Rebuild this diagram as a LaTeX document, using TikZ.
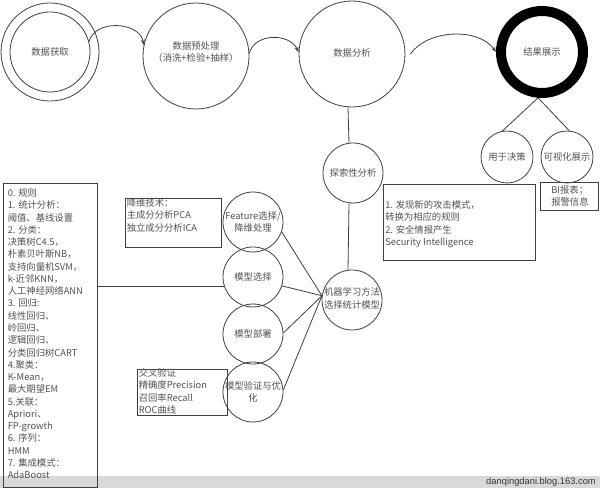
\documentclass[tikz,border=0pt]{standalone}
\usepackage{fontspec}
\setmainfont{Noto Sans CJK SC}
\newfontfamily\wmfont{Liberation Sans}
\usetikzlibrary{arrows.meta}
\begin{document}
\begin{tikzpicture}[x=0.75pt,y=-0.75pt,
  line/.style={draw=black!75, line width=0.6pt},
  circ/.style={circle, line, inner sep=0pt},
  txt/.style={font=\fontsize{7}{9.2}\selectfont, text=black!68, inner sep=0pt, align=center},
  boxtxt/.style={txt, align=left, anchor=north west},
  box/.style={rectangle, line, inner sep=0pt, anchor=north west},
  arr/.style={line, -{Stealth[length=4pt,width=3pt]}}]
\useasboundingbox (0,0) rectangle (600,488);
\fill[white] (0,0) rectangle (600,488);
% watermark band
\fill[gray!30] (0,476) rectangle (600,488);
\node[anchor=east, inner sep=0pt, font=\wmfont\fontsize{7}{8}\selectfont, text=black!80] (wm) at (596,482) {danqingdani.blog.163.com};

% top row
\node[circ, minimum size=73.5pt] (get) at (50,52) {};
\node[circ, minimum size=60pt] (geti) at (50,52) {};
\node[txt] (gett) at (50,52) {数据获取};
\node[circ, minimum size=79.5pt] (pre) at (196,56) {};
\node[txt] (pret) at (196,52) {数据预处理\\（消洗+检验+抽样）};
\node[circ, minimum size=79.5pt] (ana) at (352,54) {};
\node[txt] (anat) at (352,53) {数据分析};
\node[circle, draw=black, line width=7.5pt, minimum size=61.5pt, inner sep=0pt] (res) at (542,52) {};
\node[txt] (rest) at (542,52) {结果展示};

\draw[arr] (geti.15) to[out=75,in=100,looseness=1.1] (pre.168);
\draw[arr] (pre.3) to[out=75,in=115,looseness=1.1] (ana.178);
\draw[arr] ([xshift=3.75pt]ana.east) to[out=55,in=125,looseness=0.9] (res.180);

% result branch
\node[circ, minimum size=39pt] (jc) at (507,157) {};
\node[txt] (jct) at (507,157) {用于决策};
\node[circ, minimum size=39pt] (vs) at (567,157) {};
\node[txt] (vst) at (567,157) {可视化展示};
\draw[line] (res.265) -- (jc.100);
\draw[line] (res.265) -- (vs.85);
\node[box, line width=1pt, minimum width=43.5pt, minimum height=21pt] (bi) at (540,182) {};
\node[boxtxt] (bit) at (551,185.5) {BI报表；\\报警信息};

% analysis column
\node[circ, minimum size=45pt] (exp) at (353,173) {};
\node[txt] (expt) at (353,173) {探索性分析};
\node[circ, minimum size=45pt] (ml) at (352,300) {};
\node[txt] (mlt) at (352,298.5) {机器学习方法\\选择统计模型};
\draw[line] ([xshift=-3pt]ana.south) -- ([xshift=-3pt]exp.north);
\draw[line] ([xshift=-3pt]exp.south) -- ([xshift=-3pt]ml.north);
\node[box, minimum width=114pt, minimum height=57pt] (sec) at (383,184) {};
\node[boxtxt] (sect) at (385,200.5) {1. 发现新的攻击模式，\\转换为相应的规则\\2. 安全情报产生\\Security Intelligence};

% model column
\node[circ, minimum size=45pt] (feat) at (253,222) {};
\node[txt] (featt) at (253,222) {Feature选择/\\降维处理};
\node[circ, minimum size=45pt] (sel) at (253,277) {};
\node[txt] (selt) at (253,277) {模型选择};
\node[circ, minimum size=45pt] (dep) at (253,334) {};
\node[txt] (dept) at (253,334) {模型部署};
\node[circ, minimum size=45pt] (val) at (253,392) {};
\node[txt] (valt) at (253,392) {模型验证与优\\化};
\coordinate (J) at (ml.172);
\draw[line] (feat.-19) -- (J);
\draw[line] (sel.-17) -- (J);
\draw[line] (dep.2) -- (J);
\draw[line] (val.4) -- (J);

\node[box, minimum width=72pt, minimum height=36.75pt] (dim) at (125,198) {};
\node[boxtxt] (dimt) at (126.5,198.5) {降维技术：\\主成分分析PCA\\独立成分分析ICA};
\node[box, minimum width=67.5pt, minimum height=34.5pt] (vb) at (137,369) {};
\node[boxtxt] (vbt) at (138.5,368.5) {交叉验证\\精确度Precision\\召回率Recall\\ROC曲线};

% big list box
\node[box, minimum width=70.5pt, minimum height=228pt] (big) at (3,183) {};
\node[boxtxt] (bigt) at (7.5,188.5) {0. 规则\\1. 统计分析：\\阈值、基线设置\\2. 分类：\\决策树C4.5，\\朴素贝叶斯NB，\\支持向量机SVM，\\k-近邻KNN，\\人工神经网络ANN\\3. 回归:\\线性回归、\\岭回归、\\逻辑回归、\\分类回归树CART\\4.聚类：\\K-Mean，\\最大期望EM\\5.关联：\\Apriori、\\FP-growth\\6. 序列：\\HMM\\7. 集成模式：\\AdaBoost};
\draw[line] (sel.199) -- (sel.199 -| big.east);
\end{tikzpicture}
\end{document}
